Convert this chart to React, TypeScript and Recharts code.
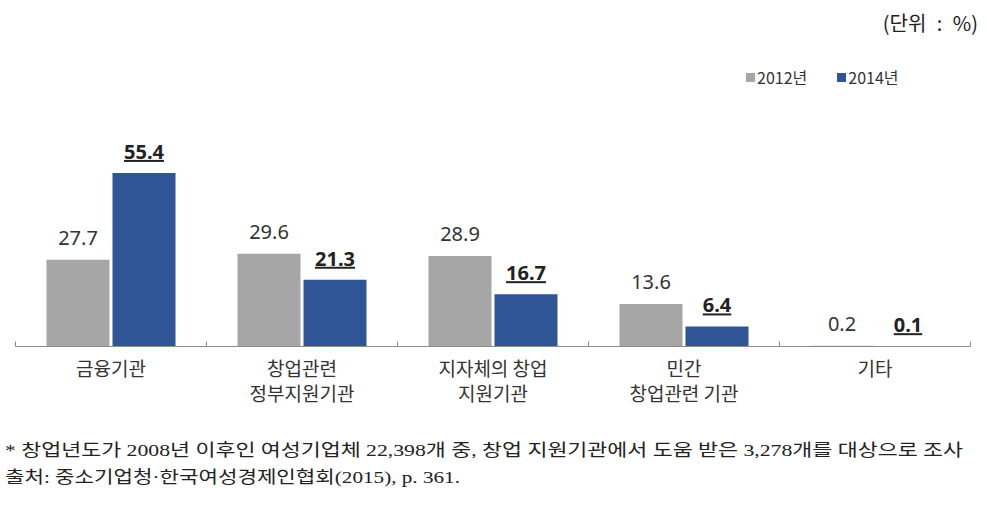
import { BarChart, Bar, XAxis, YAxis, LabelList, Legend } from 'recharts';

const categories = ['금융기관', '창업관련\n정부지원기관', '지자체의 창업\n지원기관', '민간\n창업관련 기관', '기타'];
const values2012 = [27.7, 29.6, 28.9, 13.6, 0.2];
const values2014 = [55.4, 21.3, 16.7, 6.4, 0.1];
const seriesNames = ['2012년', '2014년'];
const seriesColors = ['#a6a6a6', '#2f5597'];
const unitText = '(단위 : %)';
const noteLines = [
  '* 창업년도가 2008년 이후인 여성기업체 22,398개 중, 창업 지원기관에서 도움 받은 3,278개를 대상으로 조사',
  '출처: 중소기업청·한국여성경제인협회(2015), p. 361.',
];

const data = categories.map((name, i) => ({ name, y2012: values2012[i], y2014: values2014[i] }));

const KR = "'Noto Sans CJK KR', 'Noto Sans', sans-serif";
const NUM = "'Noto Sans', 'Noto Sans CJK KR', sans-serif";

function CategoryTick(props: any) {
  const { x, y, payload, index } = props;
  const half = payload.offset ?? 95.5;
  const lines = String(payload.value).split('\n');
  return (
    <g>
      <line x1={x - half} x2={x - half} y1={y - 5} y2={y} stroke="#8c8c8c" />
      {index === categories.length - 1 && (
        <line x1={x + half} x2={x + half} y1={y - 5} y2={y} stroke="#8c8c8c" />
      )}
      <text x={x} y={y + 29} textAnchor="middle" fontFamily={KR} fontSize={19} fill="#333">
        {lines.map((l, i) => (
          <tspan key={i} x={x} dy={i === 0 ? 0 : 25}>{l}</tspan>
        ))}
      </text>
    </g>
  );
}

function plainLabel(props: any) {
  const { x, y, width, value } = props;
  return (
    <text x={x + width / 2} y={y - 15} textAnchor="middle" fontFamily={NUM} fontSize={20} fill="#333">
      {value}
    </text>
  );
}

function boldLabel(props: any) {
  const { x, y, width, value } = props;
  return (
    <text x={x + width / 2} y={y - 14} textAnchor="middle" fontFamily={NUM} fontSize={20}
      fontWeight="bold" fill="#222" textDecoration="underline">
      {value}
    </text>
  );
}

function LegendBox() {
  return (
    <div style={{ display: 'flex', fontFamily: KR, fontSize: 16, color: '#333' }}>
      {seriesNames.map((n, i) => (
        <div key={n} style={{ display: 'flex', alignItems: 'center', marginRight: 30 }}>
          <span style={{ width: 9, height: 9, background: seriesColors[i], display: 'inline-block', marginRight: 2 }} />
          <span>{n}</span>
        </div>
      ))}
    </div>
  );
}

export default function App() {
  return (
    <div style={{ position: 'absolute', left: 0, top: 0, width: 987, height: 511, background: '#fff' }}>
      <div style={{ position: 'absolute', right: 9, top: 8, fontFamily: KR, fontSize: 20, color: '#222', wordSpacing: 6 }}>
        {unitText}
      </div>
      <div style={{ position: 'absolute', left: 0, top: 0 }}>
        <BarChart width={987} height={430} data={data} barSize={63} barGap={3}
          margin={{ top: 158.5, right: 16.5, bottom: 0, left: 15.5 }}>
          <XAxis dataKey="name" height={83.5} interval={0} tickSize={0} tickMargin={0}
            axisLine={{ stroke: '#8c8c8c' }} tickLine={false} tick={<CategoryTick />} />
          <YAxis hide domain={[0, 60]} />
          <Legend layout="horizontal" verticalAlign="middle" align="center"
            wrapperStyle={{ top: 65, left: 746, width: 230 }} content={<LegendBox />} />
          <Bar dataKey="y2012" name={seriesNames[0]} fill={seriesColors[0]} isAnimationActive={false}>
            <LabelList dataKey="y2012" content={plainLabel} />
          </Bar>
          <Bar dataKey="y2014" name={seriesNames[1]} fill={seriesColors[1]} isAnimationActive={false}>
            <LabelList dataKey="y2014" content={boldLabel} />
          </Bar>
        </BarChart>
      </div>
      <svg width={987} height={80} style={{ position: 'absolute', left: 0, top: 430 }}>
        <text x={5} y={26} fontFamily="'Liberation Serif', 'Noto Sans CJK KR', serif" fontSize={17} fill="#222"
          textLength={958} lengthAdjust="spacingAndGlyphs">{noteLines[0]}</text>
        <text x={5} y={53} fontFamily="'Liberation Serif', 'Noto Sans CJK KR', serif" fontSize={17} fill="#222"
          textLength={455} lengthAdjust="spacingAndGlyphs">{noteLines[1]}</text>
      </svg>
    </div>
  );
}
